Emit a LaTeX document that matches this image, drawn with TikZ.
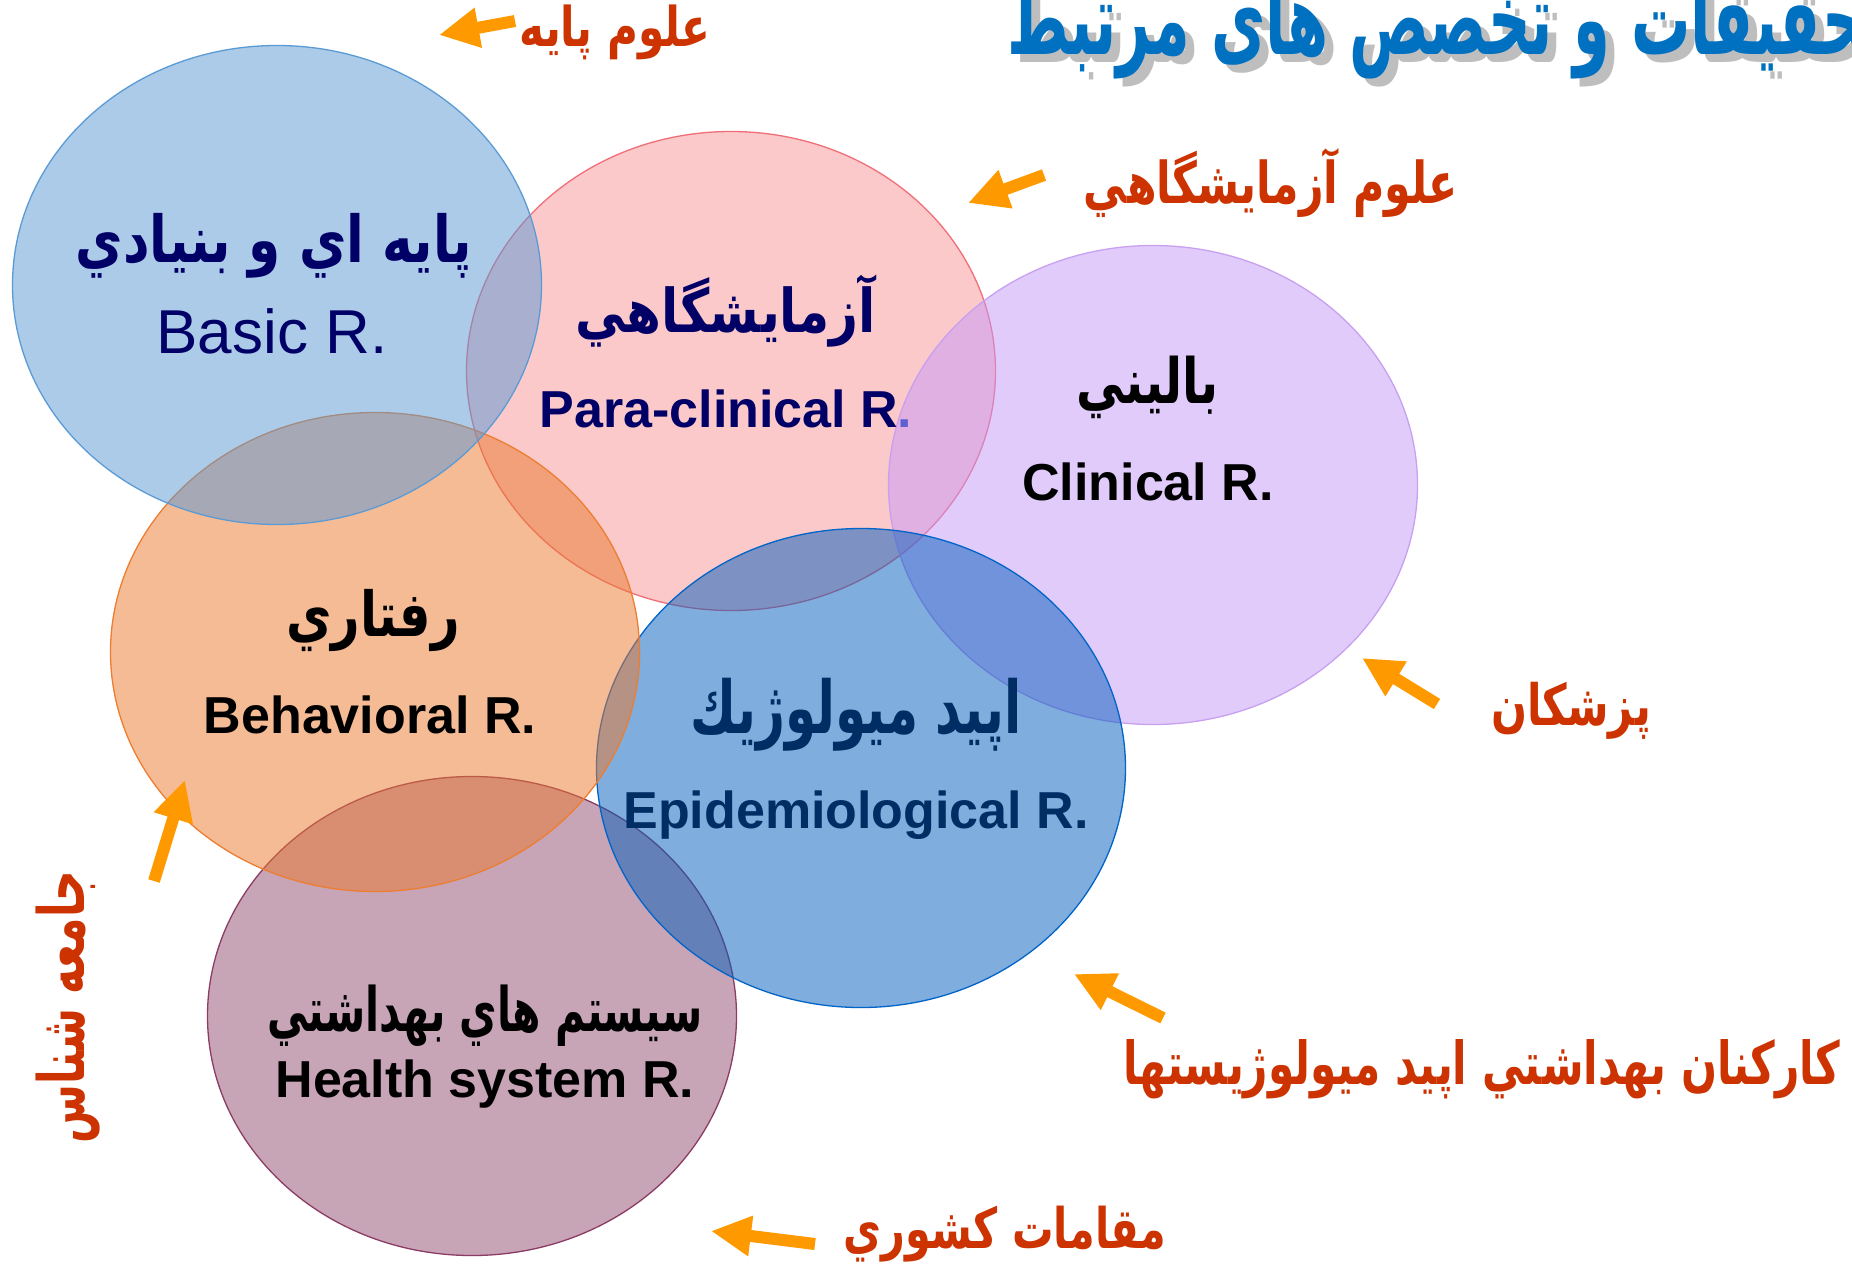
\documentclass[tikz,border=0pt]{standalone}
\usepackage{fontspec}
\usepackage{graphicx}
\setmainfont{Liberation Sans}
\newfontfamily\arabicfont[Script=Arabic]{DejaVu Sans}
\TeXXeTstate=1
\usetikzlibrary{shapes.geometric,arrows.meta}
\definecolor{fpink}{RGB}{249,149,149}
\definecolor{fpurple}{RGB}{197,153,249}
\definecolor{fhealth}{RGB}{145,75,111}
\definecolor{fepi}{RGB}{1,93,189}
\definecolor{fbehav}{RGB}{235,121,45}
\definecolor{fbasic}{RGB}{89,153,213}
\definecolor{dpink}{RGB}{240,110,120}
\definecolor{dpurple}{RGB}{200,160,240}
\definecolor{dhealth}{RGB}{140,60,100}
\definecolor{depi}{RGB}{0,100,200}
\definecolor{dbehav}{RGB}{237,125,49}
\definecolor{dbasic}{RGB}{91,155,213}
\definecolor{navy}{RGB}{0,0,102}
\definecolor{epinavy}{RGB}{0,45,100}
\definecolor{dotblue}{RGB}{96,96,208}
\definecolor{lblred}{RGB}{204,51,0}
\definecolor{arrorange}{RGB}{255,153,0}
\definecolor{titleblue}{RGB}{0,112,192}
\definecolor{shadowgrey}{RGB}{190,190,190}
% #1 width, #2 vertical stretch, #3 text (already wrapped in \beginR ... \endR)
\newcommand\ar[3]{\scalebox{1}[#2]{\resizebox{#1pt}{!}{\arabicfont\bfseries #3}}}
\tikzset{
  circ/.style={ellipse, minimum width=529pt, minimum height=479pt, line width=1.3pt, fill opacity=0.5, inner sep=0pt},
  lat/.style={font=\fontsize{52}{60}\selectfont\bfseries, inner sep=0pt},
  artext/.style={inner sep=0pt},
  lbl/.style={text=lblred, inner sep=0pt},
  arr/.style={draw=arrorange, line width=12pt, -{Triangle[width=38pt,length=40pt]}, arrorange},
}
\begin{document}
\begin{tikzpicture}[x=1pt,y=-1pt]
\useasboundingbox (0,0) rectangle (1852,1272);
\clip (0,0) rectangle (1852,1272);
\fill[white] (0,0) rectangle (1852,1272);
% circles
\node[circ, fill=fpink, draw=dpink] (para) at (731,371) {};
\node[circ, fill=fpurple, draw=dpurple] (clin) at (1153,485) {};
\node[circ, fill=fhealth, draw=dhealth] (health) at (472,1016) {};
\node[circ, fill=fepi, draw=depi] (epi) at (861,768) {};
\node[circ, fill=fbehav, draw=dbehav] (behav) at (375,652) {};
\node[circ, fill=fbasic, draw=dbasic] (basic) at (277,285) {};
% title (with grey shadow)
\node[anchor=base west, text=shadowgrey, inner sep=0pt] (titleshadow) at (1016,62) {\ar{880}{1.7}{\beginR تحقيقات و تخصص هاى مرتبط\endR}};
\node[anchor=base west, text=titleblue, inner sep=0pt] (title) at (1007,54) {\ar{880}{1.7}{\beginR تحقيقات و تخصص هاى مرتبط\endR}};
% circle texts
\node[artext, text=navy] (basicar) at (274,246) {\ar{396}{1.25}{\beginR پايه اي و بنيادي\endR}};
\node[text=navy, inner sep=0pt, font=\fontsize{62}{70}\selectfont] (basicen) at (272,331) {Basic R.};
\node[artext, text=navy] (paraar) at (726,311) {\ar{300}{1.2}{\beginR آزمايشگاهي\endR}};
\node[lat, text=navy] (paraen) at (726,409) {Para-clinical R\textcolor{dotblue}{.}};
\node[artext, text=black] (clinar) at (1148,387) {\ar{142}{1.3}{\beginR باليني\endR}};
\node[lat, text=black] (clinen) at (1148,482) {Clinical R.};
\node[artext, text=black] (behavar) at (373,620) {\ar{174}{1.25}{\beginR رفتاري\endR}};
\node[lat, text=black] (behaven) at (370,715) {Behavioral R.};
\node[artext, text=epinavy] (epiar) at (856,715) {\ar{331}{1.45}{\beginR اپيد ميولوژيك\endR}};
\node[lat, text=epinavy] (epien) at (856,815) {Epidemiological R.};
\node[artext, text=black] (healthar) at (485,1016) {\ar{435}{1.5}{\beginR سيستم هاي بهداشتي\endR}};
\node[lat, text=black] (healthen) at (485,1084) {Health system R.};
% outer labels
\node[lbl] (l1) at (615,32) {\ar{191}{1.3}{\beginR علوم پايه\endR}};
\node[lbl] (l2) at (1271,183) {\ar{374}{1.35}{\beginR علوم آزمايشگاهي\endR}};
\node[lbl] (l3) at (1571,711) {\ar{160}{1.35}{\beginR پزشكان\endR}};
\node[lbl] (l4) at (1482,1069) {\ar{716}{1.4}{\beginR كاركنان بهداشتي اپيد ميولوژيستها\endR}};
\node[lbl] (l5) at (1005,1234) {\ar{322}{1.35}{\beginR مقامات كشوري\endR}};
\node[lbl, rotate=90] (l6) at (68,1007) {\ar{272}{1.5}{\beginR جامعه شناس\endR}};
% arrows
\coordinate (t1) at (515,21);  \coordinate (h1) at (439,35);
\coordinate (t2) at (1044,175); \coordinate (h2) at (968,203);
\coordinate (t3) at (1437,704); \coordinate (h3) at (1362,658);
\coordinate (t4) at (1163,1018); \coordinate (h4) at (1074,974);
\coordinate (t5) at (815,1244); \coordinate (h5) at (711,1231);
\coordinate (t6) at (154,881); \coordinate (h6) at (185,780);
\draw[arr] (t1) -- (h1);
\draw[arr] (t2) -- (h2);
\draw[arr] (t3) -- (h3);
\draw[arr] (t4) -- (h4);
\draw[arr] (t5) -- (h5);
\draw[arr] (t6) -- (h6);
\end{tikzpicture}
\end{document}
